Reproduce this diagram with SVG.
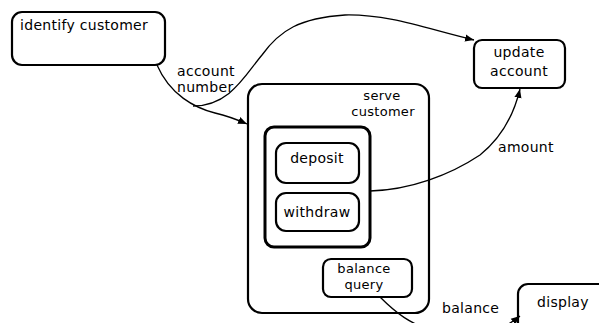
<svg xmlns="http://www.w3.org/2000/svg" width="599" height="323" viewBox="0 0 599 323">
<defs>
<style>
.box{fill:none;stroke:#000;stroke-width:2.2}
.thick{fill:none;stroke:#000;stroke-width:3}
.edge{fill:none;stroke:#000;stroke-width:1.3}
text{font-family:"DejaVu Sans","Liberation Sans",sans-serif;font-size:14px;fill:#000;letter-spacing:0.3px}
.c{text-anchor:middle}
.s{font-size:13px}
</style>
<marker id="arr" viewBox="0 0 10 10" refX="10" refY="5" markerWidth="9" markerHeight="9" markerUnits="userSpaceOnUse" orient="auto">
<path d="M0,1 L10,5 L0,9 Z" fill="#000"/>
</marker>
</defs>
<rect width="599" height="323" fill="#fff"/>
<g id="connectors">
<path class="edge" d="M157,65 C170,95 195,108 215,113 C228,116 238,120 247,124" marker-end="url(#arr)"/>
<path class="edge" d="M193,106 C230,106 245,75 262,55 C280,30 300,18 345,15 C390,14 430,30 474,40" marker-end="url(#arr)"/>
<path class="edge" d="M370,191 C410,190 450,175 480,155 C505,135 515,110 520,89" marker-end="url(#arr)"/>
<path class="edge" d="M380,297 C395,312 410,325 440,333 C475,342 500,332 520,316" marker-end="url(#arr)"/>
</g>
<g id="identify-customer">
<rect class="box" x="12" y="12" width="153" height="53" rx="10"/>
<text x="20" y="30">identify customer</text>
</g>
<g id="label-account-number">
<text x="177" y="76">account</text>
<text x="177" y="92">number</text>
</g>
<g id="update-account">
<rect class="box" x="474" y="40" width="91" height="48" rx="8"/>
<text class="c" x="519" y="57">update</text>
<text class="c" x="519" y="76">account</text>
</g>
<g id="serve-customer">
<rect class="box" x="248" y="84" width="181" height="229" rx="14"/>
<text class="c s" x="382" y="100">serve</text>
<text class="c s" x="383" y="116">customer</text>
</g>
<g id="deposit-withdraw-group">
<rect class="thick" x="265" y="127" width="105" height="120" rx="9"/>
</g>
<g id="deposit">
<rect class="box" x="276" y="143" width="83" height="40" rx="10"/>
<text class="c" x="317" y="163">deposit</text>
</g>
<g id="withdraw">
<rect class="box" x="276" y="193" width="83" height="38" rx="10"/>
<text class="c" x="317" y="217">withdraw</text>
</g>
<g id="balance-query">
<rect class="box" x="323" y="259" width="89" height="38" rx="8"/>
<text class="c s" x="364" y="273">balance</text>
<text class="c s" x="364" y="289">query</text>
</g>
<g id="label-amount">
<text x="498" y="152">amount</text>
</g>
<g id="label-balance">
<text x="442" y="313">balance</text>
</g>
<g id="display">
<rect class="box" x="518" y="284" width="110" height="60" rx="10"/>
<text x="537" y="307">display</text>
</g>
</svg>
